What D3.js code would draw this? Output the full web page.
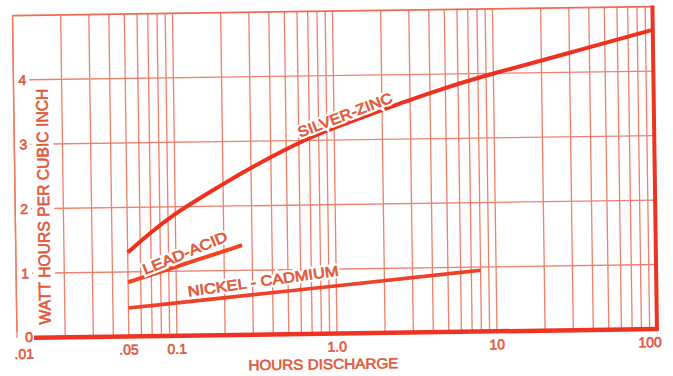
<!DOCTYPE html>
<html><head><meta charset="utf-8">
<script src="https://cdn.jsdelivr.net/npm/d3@7"></script>
<style>
html,body{margin:0;padding:0;background:#fff;}
svg{display:block;}
text{font-family:"Liberation Sans",Arial,sans-serif;}
</style></head>
<body>
<svg id="c" width="673" height="376"></svg>
<script>
// ---- data ----
const xTickValues = [0.01, 0.05, 0.1, 1, 10, 100];
const xTickLabels = [".01", ".05", "0.1", "1.0", "10", "100"];
const yTickValues = [0, 1, 2, 3, 4];
const yTickLabels = ["0", "1", "2", "3", "4"];

const silverZincX = [0.05, 0.07, 0.1, 0.15, 0.2, 0.3, 0.5, 0.7, 1, 2, 5, 10, 30, 100];
const silverZincY = [1.30, 1.61, 1.90, 2.16, 2.34, 2.59, 2.87, 3.04, 3.19, 3.46, 3.79, 4.00, 4.30, 4.64];
const leadAcidX = [0.05, 0.1, 0.26];
const leadAcidY = [0.84, 1.07, 1.39];
const nickelCadmiumX = [0.05, 1, 8];
const nickelCadmiumY = [0.44, 0.74, 0.95];

const seriesNames = ["SILVER-ZINC", "LEAD-ACID", "NICKEL - CADMIUM"];
const xTitle = "HOURS  DISCHARGE";
const yTitle = "WATT HOURS PER CUBIC INCH";

// ---- drawing ----
const svg = d3.select("#c");
const x = d3.scaleLog().domain([0.01, 100]).range([17, 657]);
const y = d3.scaleLinear().domain([0, 5]).range([338, 15.5]);

const gridCol = "#f0806c";
const mainRed = "#ee3322";
const textCol = "#e2583a";

const g = svg.append("g").attr("transform", "rotate(-0.8,17,338)");

// vertical grid lines
g.append("g").selectAll("line").data(x.ticks()).join("line")
  .attr("x1", d => x(d)).attr("x2", d => x(d))
  .attr("y1", y(5)).attr("y2", y(0))
  .attr("stroke", gridCol).attr("stroke-width", 1.3);

// horizontal grid lines
g.append("g").selectAll("line").data(yTickValues.filter(v => v > 0)).join("line")
  .attr("x1", 33).attr("x2", x(100))
  .attr("y1", d => y(d)).attr("y2", d => y(d))
  .attr("stroke", gridCol).attr("stroke-width", 1.4);

// top border
g.append("line").attr("x1", x(0.01)).attr("x2", x(100)).attr("y1", y(5)).attr("y2", y(5))
  .attr("stroke", "#ef6a50").attr("stroke-width", 1.8);
// left border
g.append("line").attr("x1", x(0.01)).attr("x2", x(0.01)).attr("y1", y(5)).attr("y2", y(0) - 6)
  .attr("stroke", "#ef7a5c").attr("stroke-width", 1.4);
// right border
g.append("line").attr("x1", x(100)).attr("x2", x(100)).attr("y1", y(5) - 1).attr("y2", y(0) + 2)
  .attr("stroke", mainRed).attr("stroke-width", 4);
// bottom axis
g.append("line").attr("x1", 34).attr("x2", x(100) + 1).attr("y1", y(0)).attr("y2", y(0))
  .attr("stroke", mainRed).attr("stroke-width", 4.5);

const txt = sel => sel.attr("fill", textCol).attr("stroke", textCol).attr("stroke-width", 0.6);

// y title with white background
const yt = g.append("g").attr("transform", `translate(45,${y(2.03)}) rotate(-90)`);
yt.append("rect").attr("x", -120).attr("y", -11).attr("width", 240).attr("height", 22).attr("fill", "#fff");
yt.append("text").attr("text-anchor", "middle").attr("dominant-baseline", "central")
  .attr("font-size", 16.5).call(txt)
  .attr("textLength", 236).attr("lengthAdjust", "spacingAndGlyphs").text(yTitle);

// y tick labels
g.append("g").selectAll("text").data(yTickValues).join("text")
  .attr("x", (d, i) => i === 0 ? 29 : 26).attr("y", (d, i) => y(d) - (i === 0 ? 1 : 0))
  .attr("text-anchor", "middle").attr("dominant-baseline", "central")
  .attr("font-size", 14).call(txt)
  .text((d, i) => yTickLabels[i]);

// x tick labels
g.append("g").selectAll("text").data(xTickValues).join("text")
  .attr("x", (d, i) => x(d) + (i === 0 ? 7 : (i === xTickValues.length - 1 ? -7 : 0)))
  .attr("y", (d, i) => y(0) + (i === 0 ? 16 : 13))
  .attr("text-anchor", "middle").attr("dominant-baseline", "central")
  .attr("font-size", 14).call(txt)
  .text((d, i) => xTickLabels[i]);

// x title
g.append("text").attr("x", 323).attr("y", 368.5).attr("text-anchor", "middle").attr("dominant-baseline", "central")
  .attr("font-size", 14.5).call(txt)
  .attr("textLength", 150).attr("lengthAdjust", "spacingAndGlyphs").text(xTitle);

// curves
const line = d3.line().x(d => x(d[0])).y(d => y(d[1])).curve(d3.curveBasis);
const series = [
  {xs: silverZincX, ys: silverZincY, col: "#f0301f", w: 4},
  {xs: leadAcidX, ys: leadAcidY, col: "#f04424", w: 4},
  {xs: nickelCadmiumX, ys: nickelCadmiumY, col: "#f0402a", w: 3.6}
];
g.append("g").selectAll("path").data(series).join("path")
  .attr("d", s => line(s.xs.map((v, i) => [v, s.ys[i]])))
  .attr("fill", "none").attr("stroke", s => s.col).attr("stroke-width", s => s.w)
  .attr("stroke-linecap", "butt");

// curve labels (screen positions)
const labelPos = [
  {x: 345, y: 115, a: -21, len: 100},
  {x: 185, y: 253, a: -22.5, len: 90},
  {x: 263, y: 281, a: -7.9, len: 152}
];
const lab = svg.append("g");
["halo", "ink"].forEach(layer => {
  lab.append("g").selectAll("text").data(seriesNames).join("text")
    .attr("transform", (d, i) => `translate(${labelPos[i].x},${labelPos[i].y}) rotate(${labelPos[i].a})`)
    .attr("text-anchor", "middle").attr("dominant-baseline", "central")
    .attr("font-size", 14.5)
    .attr("fill", layer === "halo" ? "#fff" : textCol)
    .attr("stroke", layer === "halo" ? "#fff" : textCol)
    .attr("stroke-width", layer === "halo" ? 5 : 0.7)
    .attr("textLength", (d, i) => labelPos[i].len).attr("lengthAdjust", "spacingAndGlyphs")
    .text(d => d);
});
</script>
</body></html>
